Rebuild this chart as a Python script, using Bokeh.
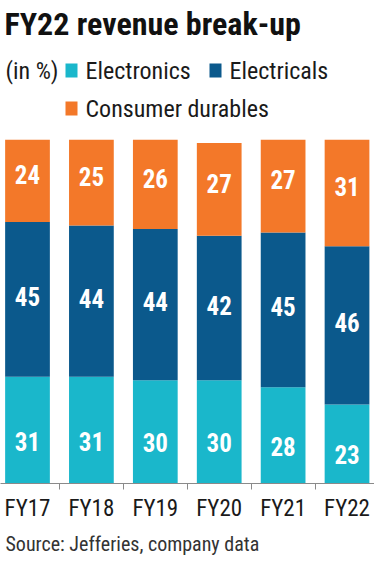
from bokeh.plotting import figure
from bokeh.layouts import column
from bokeh.models import Range1d, FixedTicker, ColumnDataSource
from bokeh.core.properties import value
from bokeh.embed import file_html
from bokeh.resources import INLINE
import numpy as np

# ---------------- data ----------------
categories = ["FY17", "FY18", "FY19", "FY20", "FY21", "FY22"]
electronics = [31, 31, 30, 30, 28, 23]
electricals = [45, 44, 44, 42, 45, 46]
consumer_durables = [24, 25, 26, 27, 27, 31]

series_keys = ["electronics", "electricals", "consumer_durables"]
series_names = ["Electronics", "Electricals", "Consumer durables"]
series_colors = ["#1ab7cb", "#0b598c", "#f37829"]

title_text = "FY22 revenue break-up"
unit_text = "(in %)"
source_text = "Source: Jefferies, company data"

# ---------------- style ----------------
FONT = "Roboto Condensed, Roboto"
W = 374
TEXT_COLOR = "#1a1a1a"

x = list(range(len(categories)))
src = ColumnDataSource(dict(x=x, electronics=electronics, electricals=electricals,
                            consumer_durables=consumer_durables))

# ---------------- header (title + legend) ----------------
HH = 139
hdr = figure(width=W, height=HH, x_range=Range1d(0, W), y_range=Range1d(HH, 0),
             x_axis_location=None, y_axis_location=None, toolbar_location=None,
             output_backend="svg", min_border=0, outline_line_color=None, title=None)
hdr.grid.visible = False
hdr.text(x=[4], y=[23], text=[title_text], text_font=value(FONT), text_font_size="32px",
         text_font_style="bold", text_color="#111111", text_baseline="middle")
hdr.text(x=[5], y=[70], text=[unit_text], text_font=value(FONT), text_font_size="24px",
         text_color=TEXT_COLOR, text_baseline="middle")

sw_left = [65, 209, 65]
sw_mid = [70, 70, 108]
hdr.quad(left=sw_left, right=[v + 12 for v in sw_left],
         top=[v - 7 for v in sw_mid], bottom=[v + 7 for v in sw_mid],
         fill_color=series_colors, line_color=None)
hdr.text(x=[v + 20 for v in sw_left], y=sw_mid, text=series_names, text_font=value(FONT),
         text_font_size="24px", text_color=TEXT_COLOR, text_baseline="middle")

# ---------------- main chart ----------------
p = figure(width=W, height=388, x_range=Range1d(-0.4225, 5.430), y_range=Range1d(0, 100),
           y_axis_location=None, toolbar_location=None, output_backend="svg",
           min_border_left=0, min_border_right=0, min_border_top=0, min_border_bottom=44,
           outline_line_color=None, title=None)
p.grid.visible = False
p.vbar_stack(series_keys, x="x", width=0.7, fill_color=series_colors, line_color=None, source=src)

e = np.array(electronics, dtype=float)
el = np.array(electricals, dtype=float)
c = np.array(consumer_durables, dtype=float)
mids = [e / 2, e + el / 2, e + el + c / 2]
offsets = [11, -3, -6]
for vals, mid, off in zip([electronics, electricals, consumer_durables], mids, offsets):
    p.text(x=x, y=list(mid), text=[str(v) for v in vals], text_align="center",
           text_baseline="middle", y_offset=off, text_color="white",
           text_font=value(FONT), text_font_size="25px", text_font_style="bold")

ax = p.xaxis[0]
ax.ticker = FixedTicker(ticks=x, minor_ticks=[i + 0.5 for i in x[:-1]])
ax.major_label_overrides = {i: cat for i, cat in zip(x, categories)}
ax.major_tick_out = 0
ax.major_tick_in = 0
ax.minor_tick_out = 6
ax.minor_tick_in = 0
ax.axis_line_color = "#8a8a8a"
ax.minor_tick_line_color = "#8a8a8a"
ax.major_label_standoff = 5
ax.major_label_text_font = FONT
ax.major_label_text_font_size = "23px"
ax.major_label_text_color = TEXT_COLOR

# ---------------- footer ----------------
FH = 34
ftr = figure(width=W, height=FH, x_range=Range1d(0, W), y_range=Range1d(FH, 0),
             x_axis_location=None, y_axis_location=None, toolbar_location=None,
             output_backend="svg", min_border=0, outline_line_color=None, title=None)
ftr.grid.visible = False
ftr.text(x=[5], y=[16], text=[source_text], text_font=value(FONT), text_font_size="20px",
         text_color="#333333", text_baseline="middle")

layout = column(hdr, p, ftr, spacing=0)
open("out.html", "w").write(file_html(layout, INLINE))
